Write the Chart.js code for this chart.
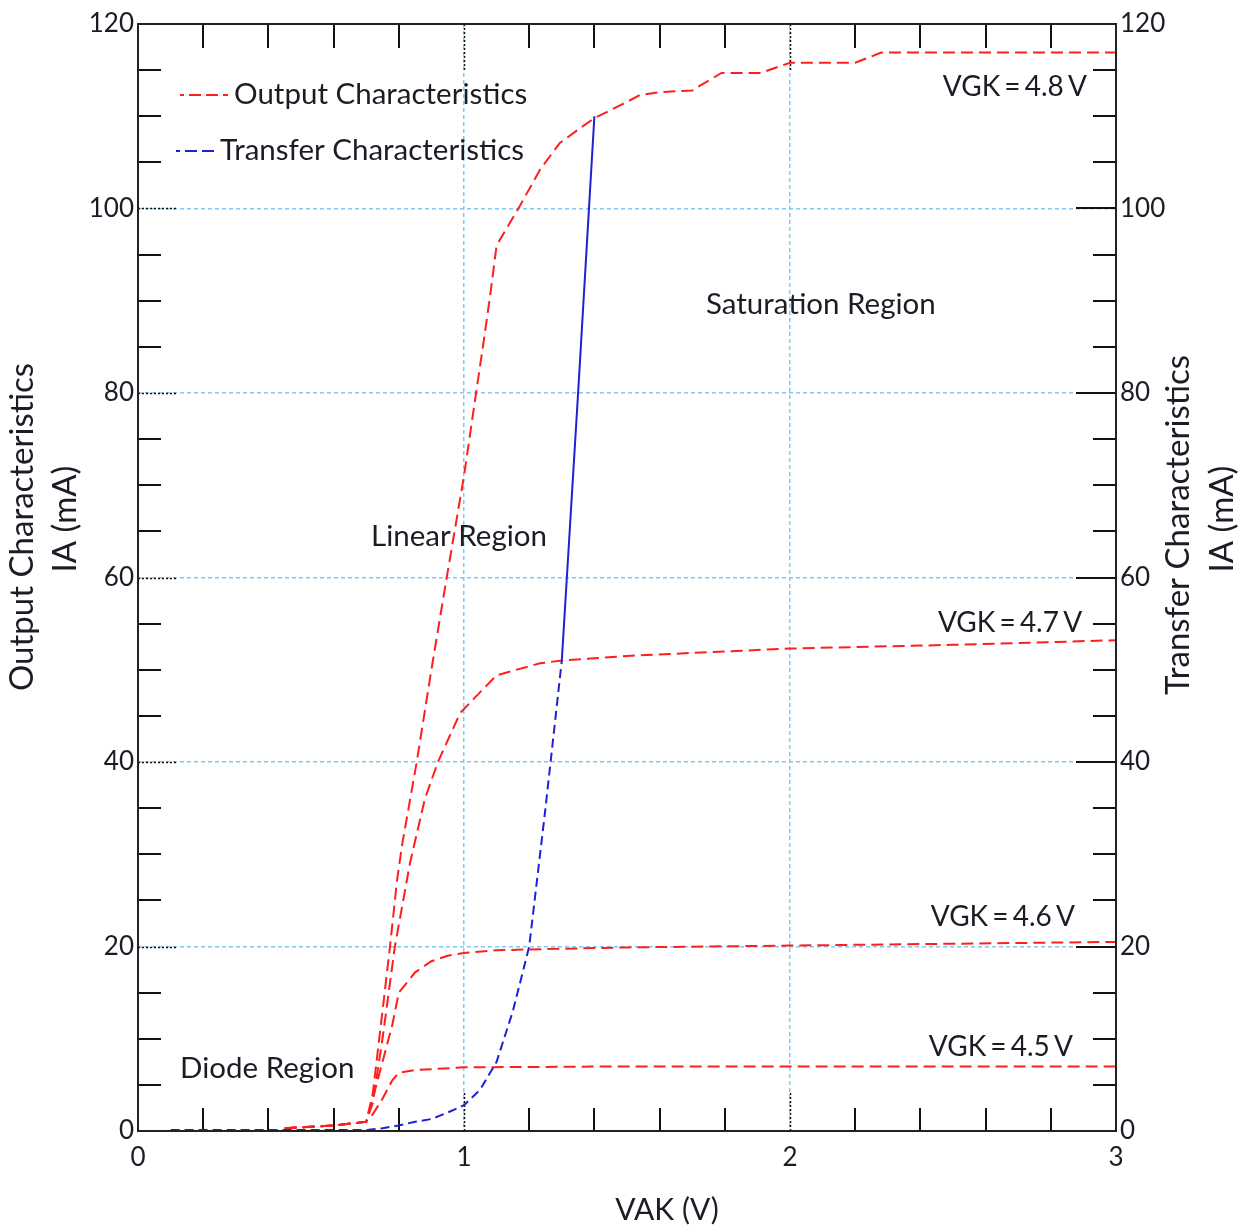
<!DOCTYPE html>
<html><head><meta charset="utf-8">
<script src="https://cdn.jsdelivr.net/npm/chart.js@4.4.1/dist/chart.umd.min.js"></script>
<style>html,body{margin:0;padding:0;background:#fff;} #wrap{width:1247px;height:1231px;}</style>
</head><body><div id="wrap"><canvas id="c" width="1247" height="1231"></canvas></div>
<script>
// ---------- data ----------
const transferV = [0.1,0.2,0.3,0.4,0.5,0.6,0.7,0.75,0.8,0.85,0.9,0.95,1.0,1.05,1.1,1.15,1.2,1.25,1.3,1.35,1.4];
const transferI = [0.1,0.1,0.1,0.1,0.1,0.1,0.1,0.3,0.6,1.0,1.3,2.0,2.8,4.5,7.5,13,20,35,51,80,110];

const vgk45V = [0.45,0.5,0.6,0.7,0.72,0.75,0.78,0.8,0.85,1.0,1.5,2.0,3.0];
const vgk45I = [0.3,0.4,0.6,1.0,1.8,3.5,5.5,6.3,6.6,6.9,7.0,7.0,7.0];

const vgk46V = [0.45,0.5,0.6,0.7,0.72,0.75,0.78,0.8,0.85,0.9,0.95,1.0,1.1,1.5,2.0,3.0];
const vgk46I = [0.3,0.4,0.6,1.0,3.5,7.5,11.5,15,17.2,18.4,19.0,19.3,19.6,19.9,20.1,20.5];

const vgk47V = [0.45,0.5,0.6,0.7,0.72,0.75,0.788,0.834,0.88,0.92,0.988,1.034,1.1,1.233,1.3,1.5,2.0,2.5,3.0];
const vgk47I = [0.3,0.4,0.6,1.0,3,10,20,29,36,40,45.3,47,49.4,50.7,51,51.5,52.3,52.7,53.2];

const vgk48V = [0.45,0.5,0.6,0.7,0.72,0.75,0.773,0.794,0.81,0.855,0.9,0.947,1.0,1.037,1.06,1.08,1.1,1.17,1.233,1.294,1.356,1.4,1.48,1.54,1.6,1.7,1.79,1.91,2.0,2.2,2.28,3.0];
const vgk48I = [0.3,0.4,0.6,1.0,4,13,20,27,31,40,50,60,71,80,85.5,90.5,96,100.2,104.2,107.1,108.7,109.8,111.2,112.3,112.6,112.8,114.7,114.7,115.8,115.8,116.9,116.9];

const xTickStep = 1;
const yTickStep = 20;
const xRange = [0, 3];
const yRange = [0, 120];

const curveLabels = ['VGK = 4.5 V','VGK = 4.6 V','VGK = 4.7 V','VGK = 4.8 V'];
const regionLabels = ['Diode Region','Linear Region','Saturation Region'];
const xTitle = 'VAK (V)';
const yLeftTitle = ['Output Characteristics', 'IA (mA)'];
const yRightTitle = ['Transfer Characteristics', 'IA (mA)'];

// ---------- presentation ----------
const FONT = 'Lato, "Open Sans", sans-serif';
const TXT = '#1c1c26';
const RED = '#ff1e1e';
const BLUE = '#1f1fd6';
const GRID = '#7fc9f2';

const toPts = (xs, ys) => xs.map((x, i) => ({x, y: ys[i]}));

// annotation placement (data coordinates) for the text labels
const annotations = [
  {text: curveLabels[3], x: 2.911, y: 113.2, align: 'right', tight: true},
  {text: curveLabels[2], x: 2.896, y: 55.1, align: 'right', tight: true},
  {text: curveLabels[1], x: 2.874, y: 23.2, align: 'right', tight: true},
  {text: curveLabels[0], x: 2.868, y: 9.1, align: 'right', tight: true},
  {text: regionLabels[2], x: 1.742, y: 89.6, align: 'left'},
  {text: regionLabels[1], x: 0.715, y: 64.4, align: 'left'},
  {text: regionLabels[0], x: 0.129, y: 6.8, align: 'left'}
];

const redDash = [12, 6];

const datasets = [
  {label: 'Transfer Characteristics', data: toPts(transferV, transferI), yAxisID: 'y2',
   borderColor: BLUE, borderWidth: 2, borderDash: [9, 5], pointRadius: 0, tension: 0,
   segment: {borderDash: c => (c.p0.parsed.x >= 1.3 ? [] : undefined)}},
  {label: 'Output Characteristics', data: toPts(vgk48V, vgk48I), yAxisID: 'y',
   borderColor: RED, borderWidth: 2, borderDash: redDash, pointRadius: 0, tension: 0},
  {label: 'Output Characteristics', data: toPts(vgk47V, vgk47I), yAxisID: 'y',
   borderColor: RED, borderWidth: 2, borderDash: redDash, pointRadius: 0, tension: 0},
  {label: 'Output Characteristics', data: toPts(vgk46V, vgk46I), yAxisID: 'y',
   borderColor: RED, borderWidth: 2, borderDash: redDash, pointRadius: 0, tension: 0},
  {label: 'Output Characteristics', data: toPts(vgk45V, vgk45I), yAxisID: 'y',
   borderColor: RED, borderWidth: 2, borderDash: redDash, pointRadius: 0, tension: 0}
];

const decor = {
  id: 'decor',
  beforeDatasetsDraw(chart) {
    const {ctx, chartArea: a, scales} = chart;
    const xs = scales.x, ys = scales.y;
    ctx.save();
    ctx.strokeStyle = '#111';
    ctx.lineWidth = 2;
    ctx.setLineDash([]);
    ctx.beginPath();
    for (let v = 0.2; v < 3; v += 0.2) {
      if (Math.abs(v - Math.round(v)) < 1e-6) continue;
      const px = Math.round(xs.getPixelForValue(v));
      ctx.moveTo(px, a.top); ctx.lineTo(px, a.top + 24);
      ctx.moveTo(px, a.bottom); ctx.lineTo(px, a.bottom - 23);
    }
    for (let v = 5; v < 120; v += 5) {
      if (v % 20 === 0) continue;
      const py = Math.round(ys.getPixelForValue(v));
      ctx.moveTo(a.left, py); ctx.lineTo(a.left + 23, py);
      ctx.moveTo(a.right, py); ctx.lineTo(a.right - 23, py);
    }
    ctx.stroke();
    ctx.setLineDash([2, 2]);
    ctx.lineWidth = 1.5;
    ctx.beginPath();
    for (let v = 1; v < 3; v++) {
      const px = Math.round(xs.getPixelForValue(v)) + 0.5;
      ctx.moveTo(px, a.top); ctx.lineTo(px, a.top + 48);
      ctx.moveTo(px, a.bottom); ctx.lineTo(px, a.bottom - 40);
    }
    for (let v = 20; v < 120; v += 20) {
      const py = Math.round(ys.getPixelForValue(v)) + 0.5;
      ctx.moveTo(a.left, py); ctx.lineTo(a.left + 38, py);
    }
    ctx.stroke();
    ctx.setLineDash([]);
    ctx.lineWidth = 2;
    ctx.beginPath();
    for (let v = 20; v < 120; v += 20) {
      const py = Math.round(ys.getPixelForValue(v));
      ctx.moveTo(a.right, py); ctx.lineTo(a.right - 40, py);
    }
    ctx.stroke();
    ctx.restore();
  },
  afterDatasetsDraw(chart) {
    const {ctx, chartArea: a, scales} = chart;
    const xs = scales.x, ys = scales.y;
    ctx.save();
    ctx.strokeStyle = '#222';
    ctx.lineWidth = 2;
    ctx.setLineDash([]);
    ctx.strokeRect(a.left, a.top, a.right - a.left, a.bottom - a.top);

    // annotations
    ctx.fillStyle = TXT;
    ctx.textBaseline = 'middle';
    annotations.forEach(t => {
      ctx.font = (t.tight ? '28px ' : '29.5px ') + FONT;
      ctx.wordSpacing = t.tight ? '-3px' : '0px';
      ctx.textAlign = t.align;
      ctx.fillText(t.text, xs.getPixelForValue(t.x), ys.getPixelForValue(t.y));
    });
    ctx.wordSpacing = '0px';

    // legend
    ctx.font = '29.5px ' + FONT;
    const entries = [
      {label: chart.data.datasets[1].label, color: RED, x0: a.left + 42, x1: a.left + 90, tx: a.left + 96, y: a.top + 70},
      {label: chart.data.datasets[0].label, color: BLUE, x0: a.left + 38, x1: a.left + 79, tx: a.left + 82, y: a.top + 126}
    ];
    entries.forEach(e => {
      ctx.strokeStyle = e.color;
      ctx.lineWidth = 2;
      ctx.setLineDash([12, 5]);
      ctx.lineDashOffset = 8;
      ctx.beginPath();
      ctx.moveTo(e.x0, e.y + 1); ctx.lineTo(e.x1, e.y + 1);
      ctx.stroke();
      ctx.setLineDash([]);
      ctx.fillStyle = TXT;
      ctx.textAlign = 'left';
      ctx.fillText(e.label, e.tx, e.y);
    });

    // axis titles
    ctx.textAlign = 'center';
    ctx.font = '30px ' + FONT;
    ctx.fillText(xTitle, 667, 1210);
    ctx.font = '33px ' + FONT;
    const titles = [
      {text: yLeftTitle[0], x: 22, y: 527},
      {text: yLeftTitle[1], x: 65, y: 519},
      {text: yRightTitle[0], x: 1178, y: 525},
      {text: yRightTitle[1], x: 1222, y: 519}
    ];
    titles.forEach(t => {
      ctx.save();
      ctx.translate(t.x, t.y);
      ctx.rotate(-Math.PI / 2);
      ctx.fillText(t.text, 0, 0);
      ctx.restore();
    });
    ctx.restore();
  }
};

const tickFont = {family: FONT, size: 26};

new Chart(document.getElementById('c'), {
  type: 'line',
  data: {datasets},
  options: {
    responsive: false,
    animation: false,
    events: [],
    layout: {padding: {top: 24, left: 0, right: 0, bottom: 0}},
    plugins: {legend: {display: false}, tooltip: {enabled: false}},
    scales: {
      x: {
        type: 'linear', position: 'bottom', min: xRange[0], max: xRange[1],
        ticks: {stepSize: xTickStep, font: tickFont, color: TXT, padding: 11, maxRotation: 0},
        grid: {color: GRID, lineWidth: 1.5, drawTicks: false},
        border: {display: false, dash: [4, 3]},
        title: {display: false},
        afterFit: s => { s.height = 100; }
      },
      y: {
        type: 'linear', position: 'left', min: yRange[0], max: yRange[1],
        ticks: {stepSize: yTickStep, font: tickFont, color: TXT, padding: 4},
        grid: {color: GRID, lineWidth: 1.5, drawTicks: false},
        border: {display: false, dash: [4, 3]},
        afterFit: s => { s.width = 138; }
      },
      y2: {
        type: 'linear', position: 'right', min: yRange[0], max: yRange[1],
        ticks: {stepSize: yTickStep, font: tickFont, color: TXT, padding: 4},
        grid: {drawOnChartArea: false, drawTicks: false},
        border: {display: false},
        afterFit: s => { s.width = 131; }
      }
    }
  },
  plugins: [decor]
});
</script></body></html>
